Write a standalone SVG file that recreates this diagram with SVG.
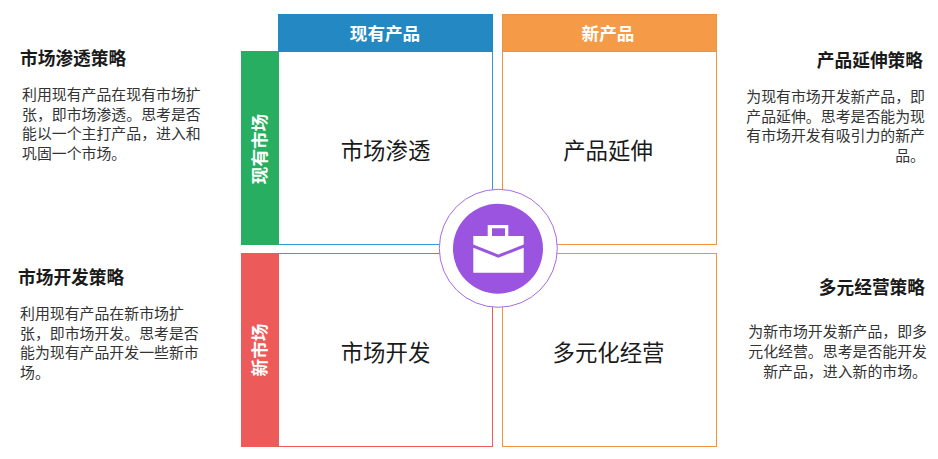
<svg xmlns="http://www.w3.org/2000/svg" width="938" height="459" viewBox="0 0 938 459">
<style>
text{font-family:"Noto Sans CJK SC","Noto Sans",sans-serif}
.box{fill:#fff;stroke-width:1}
.head{font-size:17.6px;font-weight:700;fill:#fff;text-anchor:middle}
.main{font-size:22.4px;fill:#1a1a1a;text-anchor:middle}
.title{font-size:17.7px;font-weight:700;fill:#1a1a1a}
.body{font-size:14.9px;fill:#333}
.end{text-anchor:end}
</style>
<rect width="938" height="459" fill="#fff"/>
<g id="cell-tl"><rect class="box" x="278.500" y="51.500" width="214" height="193" stroke="#2e9bd8"/><text class="main" x="385.500" y="159">市场渗透</text></g>
<g id="cell-tr"><rect class="box" x="502.500" y="51.500" width="214" height="193" stroke="#f0943f"/><text class="main" x="608" y="159">产品延伸</text></g>
<g id="cell-bl"><rect class="box" x="278.500" y="253.500" width="214" height="193" stroke="#ee5a5a"/><text class="main" x="385.500" y="361">市场开发</text></g>
<g id="cell-br"><rect class="box" x="502.500" y="253.500" width="214" height="193" stroke="#f0943f"/><text class="main" x="608.500" y="361">多元化经营</text></g>
<g id="head-existing-product"><rect x="278" y="14" width="215" height="38" fill="#2488c2"/><text class="head" x="385" y="40">现有产品</text></g>
<g id="head-new-product"><rect x="502.500" y="14.500" width="214" height="37" fill="#f59b48" stroke="#e8924a"/><text class="head" x="608" y="40">新产品</text></g>
<g id="head-existing-market"><rect x="241" y="51" width="38" height="194" fill="#27ae60"/><text class="head" transform="translate(266 149) rotate(-90)">现有市场</text></g>
<g id="head-new-market"><rect x="241" y="253" width="38" height="194" fill="#ec5a5a"/><text class="head" transform="translate(266 350) rotate(-90)">新市场</text></g>
<g id="center">
<circle cx="498.300" cy="248.300" r="59" fill="#fff" stroke="#a86be0" stroke-width="1"/>
<circle cx="498" cy="248.700" r="45" fill="#9b54e0"/>
<path fill="#fff" fill-rule="evenodd" d="M473.300 236H487.700V225H508.300V236H523.700V244.500L498.300 254.500L473.300 244.500ZM492 228.300V236H505V228.300ZM473.300 247.700L498.300 257.700L523.700 247.700V272.700H473.300Z"/>
</g>
<g id="note-tl">
<text class="title" x="20" y="65">市场渗透策略</text>
<text class="body" x="22" y="100">利用现有产品在现有市场扩</text>
<text class="body" x="22" y="120">张，即市场渗透。思考是否</text>
<text class="body" x="22" y="139">能以一个主打产品，进入和</text>
<text class="body" x="22" y="159">巩固一个市场。</text>
</g>
<g id="note-tr">
<text class="title end" x="923" y="67">产品延伸策略</text>
<text class="body end" x="925" y="102">为现有市场开发新产品，即</text>
<text class="body end" x="925" y="122">产品延伸。思考是否能为现</text>
<text class="body end" x="925" y="141">有市场开发有吸引力的新产</text>
<text class="body end" x="925" y="161">品。</text>
</g>
<g id="note-bl">
<text class="title" x="18" y="284">市场开发策略</text>
<text class="body" x="20" y="319">利用现有产品在新市场扩</text>
<text class="body" x="20" y="339">张，即市场开发。思考是否</text>
<text class="body" x="20" y="358">能为现有产品开发一些新市</text>
<text class="body" x="20" y="378">场。</text>
</g>
<g id="note-br">
<text class="title end" x="925" y="294">多元经营策略</text>
<text class="body end" x="927" y="337">为新市场开发新产品，即多</text>
<text class="body end" x="927" y="357">元化经营。思考是否能开发</text>
<text class="body end" x="927" y="377">新产品，进入新的市场。</text>
</g>
<g id="connectors"></g>
</svg>
